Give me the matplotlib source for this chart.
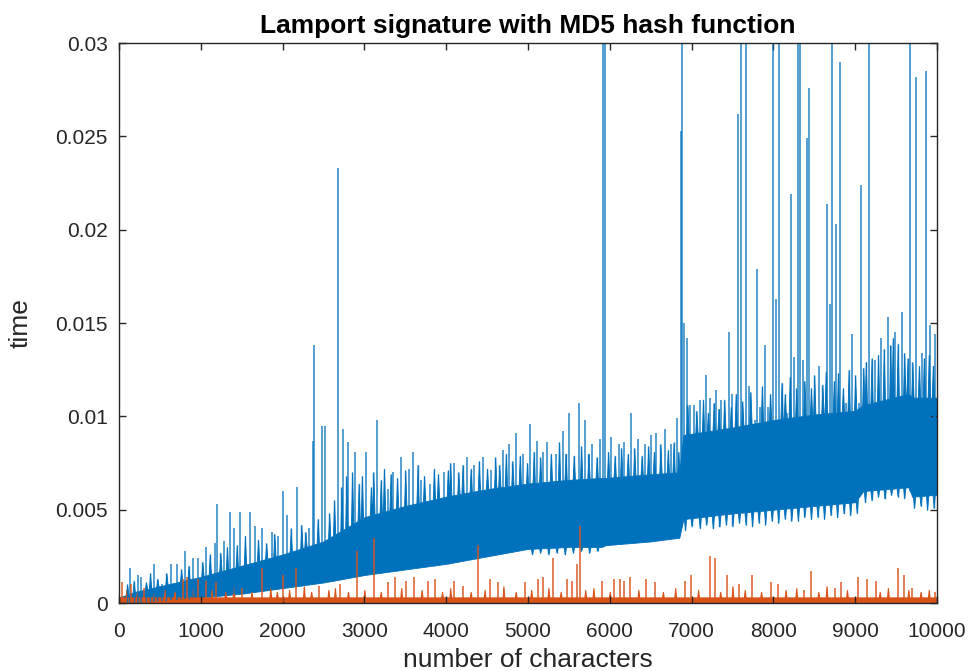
import numpy as np
import matplotlib
matplotlib.use("Agg")
import matplotlib.pyplot as plt

plt.rcParams['font.family'] = ['Liberation Sans', 'DejaVu Sans']

title = "Lamport signature with MD5 hash function"
xlabel = "number of characters"
ylabel = "time"
xticks = [0, 1000, 2000, 3000, 4000, 5000, 6000, 7000, 8000, 9000, 10000]
yticks = [0, 0.005, 0.01, 0.015, 0.02, 0.025, 0.03]
ytick_labels = ["0", "0.005", "0.01", "0.015", "0.02", "0.025", "0.03"]

# MD5 series: dense band (lower / upper edge of the solid core)
blue_x = [0, 200, 500, 1000, 1500, 2000, 2500, 3000, 3500, 4000, 4500, 5000, 5500, 5900, 5950,
          6500, 6850, 6900, 7500, 8000, 8500, 9000, 9100, 9650, 9700, 10000]
blue_low = [0.0, 0.0, 0.0001, 0.0003, 0.0005, 0.0008, 0.0011, 0.0015, 0.0018, 0.0021, 0.0025, 0.0029,
            0.0030, 0.0030, 0.0031, 0.0033, 0.0035, 0.0045, 0.0048, 0.0050, 0.0052, 0.0054, 0.0060,
            0.0062, 0.0057, 0.0058]
blue_high = [0.0003, 0.0006, 0.0009, 0.0014, 0.0020, 0.0026, 0.0033, 0.0046, 0.0052, 0.0057, 0.0061,
             0.0064, 0.0066, 0.0067, 0.0067, 0.0069, 0.0070, 0.0090, 0.0094, 0.0098, 0.0101, 0.0103,
             0.0106, 0.0112, 0.0110, 0.0110]

# MD5 series: individual peaks (position, time)
blue_peak_x = [135, 230, 270, 430, 520, 640, 710, 810, 900, 970, 1060, 1175, 1200, 1290, 1355, 1410,
               1480, 1600, 1660, 1750, 1870, 1940, 2000, 2060, 2175, 2320, 2370, 2390, 2480, 2520,
               2680, 2740, 2800, 2880, 3020, 3150, 3285, 3350, 3450, 3550, 3600, 3690, 3800, 3970,
               4100, 4260, 4340, 4450, 4550, 4690, 4770, 4850, 4940, 5030, 5110, 5180, 5230, 5340,
               5430, 5500, 5620, 5700, 5780, 5880, 5920, 5945, 6010, 6110, 6170, 6260, 6340, 6430,
               6500, 6565, 6675, 6750, 6820, 6870, 6880, 6905, 6940, 6980, 7030, 7100, 7175, 7230,
               7300, 7360, 7455, 7500, 7570, 7600, 7665, 7700, 7770, 7800, 7840, 7900, 7930, 7995,
               8030, 8070, 8170, 8215, 8250, 8300, 8330, 8360, 8410, 8435, 8555, 8655, 8690, 8720,
               8765, 8815, 8890, 8965, 9050, 9070, 9170, 9240, 9320, 9400, 9490, 9570, 9670, 9745,
               9815, 9865, 9920, 9980]
blue_peak_y = [0.0019, 0.0015, 0.0014, 0.0021, 0.0010, 0.0021, 0.0021, 0.0028, 0.0024, 0.0024, 0.0030,
               0.0032, 0.0053, 0.0033, 0.0049, 0.0040, 0.0049, 0.0049, 0.0041, 0.0040, 0.0038, 0.0036,
               0.0060, 0.0047, 0.0062, 0.0040, 0.0087, 0.0138, 0.0095, 0.0095, 0.0233, 0.0093, 0.0086,
               0.0081, 0.0081, 0.0098, 0.0061, 0.0070, 0.0078, 0.0072, 0.0081, 0.0066, 0.0064, 0.0070,
               0.0075, 0.0078, 0.0074, 0.0078, 0.0071, 0.0082, 0.0085, 0.0091, 0.0080, 0.0096, 0.0087,
               0.0081, 0.0086, 0.0080, 0.0092, 0.0102, 0.0107, 0.0098, 0.0085, 0.0088, 0.0320, 0.0320,
               0.0089, 0.0085, 0.0086, 0.0102, 0.0088, 0.0085, 0.0090, 0.0091, 0.0093, 0.0085, 0.0099,
               0.0253, 0.0320, 0.0150, 0.0142, 0.0106, 0.0106, 0.0109, 0.0122, 0.0110, 0.0114, 0.0109,
               0.0145, 0.0112, 0.0262, 0.0320, 0.0320, 0.0116, 0.0098, 0.0179, 0.0105, 0.0138, 0.0105,
               0.0320, 0.0163, 0.0320, 0.0102, 0.0219, 0.0132, 0.0320, 0.0320, 0.0130, 0.0249, 0.0276,
               0.0127, 0.0214, 0.0160, 0.0320, 0.0203, 0.0290, 0.0107, 0.0144, 0.0107, 0.0224, 0.0320,
               0.0130, 0.0142, 0.0153, 0.0145, 0.0156, 0.0320, 0.0282, 0.0134, 0.0285, 0.0149, 0.0144]

# MD5 series: dense short excursions above the core
blue_hair_x = [100, 180, 330, 380, 470, 580, 760, 850, 1020, 1110, 1240, 1320, 1440, 1540, 1700, 1800,
               1900, 2100, 2230, 2280, 2430, 2570, 2630, 2720, 2780, 2850, 2930, 2970, 3080, 3110,
               3200, 3240, 3320, 3400, 3500, 3650, 3730, 3850, 3900, 4020, 4050, 4150, 4200, 4300,
               4400, 4500, 4600, 4650, 4730, 4810, 4900, 4990, 5070, 5150, 5280, 5380, 5460, 5560,
               5650, 5740, 5840, 5980, 6060, 6140, 6220, 6300, 6390, 6470, 6540, 6620, 6710, 6780,
               6840, 6950, 7060, 7140, 7200, 7270, 7330, 7400, 7480, 7540, 7620, 7720, 7860, 7960,
               8100, 8140, 8200, 8280, 8380, 8460, 8500, 8600, 8640, 8740, 8790, 8850, 8920, 9000,
               9100, 9130, 9200, 9280, 9350, 9430, 9460, 9520, 9600, 9640, 9700, 9780, 9840, 9900,
               9950]
blue_hair_y = [0.0010, 0.0012, 0.0011, 0.0016, 0.0013, 0.0016, 0.0018, 0.0020, 0.0022, 0.0026, 0.0027,
               0.0030, 0.0031, 0.0036, 0.0034, 0.0032,
               0.0037, 0.0040, 0.0042, 0.0038, 0.0045, 0.0048, 0.0055, 0.0062, 0.0068, 0.0070, 0.0064,
               0.0068, 0.0062, 0.0070,
               0.0066, 0.0072, 0.0069, 0.0067, 0.0071, 0.0074, 0.0068, 0.0072, 0.0069, 0.0071, 0.0075,
               0.0070, 0.0074, 0.0072,
               0.0076, 0.0072, 0.0078, 0.0074, 0.0080, 0.0076, 0.0079, 0.0075, 0.0081, 0.0078, 0.0080,
               0.0086, 0.0080, 0.0079,
               0.0084, 0.0080, 0.0078, 0.0081, 0.0079, 0.0083, 0.0080, 0.0083, 0.0079, 0.0084, 0.0081,
               0.0085, 0.0082, 0.0086,
               0.0081, 0.0106, 0.0103, 0.0109, 0.0102, 0.0107, 0.0104, 0.0109, 0.0105, 0.0112, 0.0108,
               0.0113, 0.0116, 0.0112,
               0.0118, 0.0112, 0.0121, 0.0115, 0.0119, 0.0115, 0.0122, 0.0117, 0.0124, 0.0119, 0.0123,
               0.0115, 0.0125, 0.0122,
               0.0126, 0.0129, 0.0131, 0.0133, 0.0136, 0.0138, 0.0142, 0.0139, 0.0134, 0.0131, 0.0129,
               0.0127, 0.0131, 0.0133,
               0.0127]

# MD5 series: short excursions below the core
blue_dip_x = [5050, 5150, 5250, 5350, 5450, 5550, 5650, 5750, 5850, 6920, 7000, 7100, 7180, 7260, 7340,
              7420, 7500, 7580, 7660, 7740, 7820, 7900, 7980, 8060, 8140, 8220, 8300, 8380, 8460,
              8540, 8620, 8700, 8780, 8860, 8940, 9020, 9120, 9200, 9280, 9360, 9440, 9520, 9600,
              9720, 9800, 9880, 9960]
blue_dip_y = [0.0026, 0.0027, 0.0026, 0.0027, 0.0026, 0.0027, 0.0028, 0.0027, 0.0028, 0.0039, 0.0041,
              0.0040, 0.0042, 0.0040, 0.0041, 0.0042, 0.0041, 0.0043, 0.0042, 0.0041, 0.0043, 0.0042,
              0.0044, 0.0043, 0.0045, 0.0044, 0.0044, 0.0046, 0.0045, 0.0046, 0.0045, 0.0047, 0.0046,
              0.0048, 0.0047, 0.0048, 0.0054, 0.0055, 0.0057, 0.0056, 0.0058, 0.0057, 0.0056, 0.0051,
              0.0052, 0.0050, 0.0051]

# second series: dense base band and peaks
orange_x = [0, 10000]
orange_low = [0.00003, 0.00003]
orange_high = [0.0003, 0.0003]
orange_peak_x = [40, 150, 310, 780, 830, 960, 1060, 1190, 1500, 1750, 2000, 2170, 2450, 2700, 2910,
                 3120, 3290, 3370, 3510, 3610, 3780, 3860, 4100, 4200, 4390, 4530, 4630, 4960, 5120,
                 5180, 5310, 5480, 5540, 5600, 5635, 5900, 6050, 6120, 6180, 6250, 6440, 6550, 6920,
                 6990, 7225, 7290, 7430, 7580, 7740, 7970, 8060, 8370, 8460, 8750, 8830, 9035, 9140,
                 9250, 9525, 9595, 9700, 9970]
orange_peak_y = [0.0011, 0.0010, 0.0008, 0.0013, 0.0014, 0.0013, 0.0012, 0.0011, 0.0008, 0.0019, 0.0015,
                 0.0019, 0.0009, 0.0010, 0.0028, 0.0035, 0.0011, 0.0014, 0.0012, 0.0014, 0.0012, 0.0013,
                 0.0012, 0.0009, 0.0031, 0.0013, 0.0011, 0.0011, 0.0013, 0.0014, 0.0024, 0.0013, 0.0012,
                 0.0021, 0.0041, 0.0012, 0.0013, 0.0013, 0.0012, 0.0014, 0.0013, 0.0011, 0.0012, 0.0015,
                 0.0025, 0.0024, 0.0015, 0.0010, 0.0015, 0.0011, 0.0010, 0.0007, 0.0017, 0.0008, 0.0011,
                 0.0014, 0.0013, 0.0012, 0.0019, 0.0015, 0.0008, 0.0006]
orange_hair_x = [90, 220, 420, 560, 680, 900, 1130, 1300, 1400, 1620, 1850, 1930, 2080, 2260, 2350, 2560,
                 2640, 2800, 3000, 3200, 3450, 3700, 3950, 4050, 4300, 4470, 4700, 4850, 5040, 5250,
                 5400, 5700, 5800, 6000, 6350, 6650, 6800, 7080, 7350, 7500, 7650, 7850, 8150, 8280,
                 8550, 8650, 8900, 9300, 9400, 9650, 9800, 9900]
orange_hair_y = [0.0007, 0.0006, 0.0005, 0.0007, 0.0006, 0.0008, 0.0007, 0.0006, 0.0009, 0.0006, 0.0008,
                 0.0006, 0.0007, 0.0009, 0.0006, 0.0007, 0.0008, 0.0006, 0.0007, 0.0006, 0.0008, 0.0007,
                 0.0006, 0.0008, 0.0006, 0.0007, 0.0009, 0.0006, 0.0007, 0.0008, 0.0006, 0.0007, 0.0008,
                 0.0006, 0.0007, 0.0006, 0.0008, 0.0007, 0.0006, 0.0009, 0.0007, 0.0006, 0.0007, 0.0008,
                 0.0006, 0.0009, 0.0007, 0.0006, 0.0008, 0.0007, 0.0006, 0.0007]

BLUE = '#0072BD'
ORANGE = '#D95319'
AXC = '#262626'


def toothed_edge(edge_x, edge_y, tip_x, tip_y, upward=True, half_width=14.0):
    """Edge polyline of the band with a narrow tooth at every excursion."""
    ex = np.asarray(edge_x, float)
    ey = np.asarray(edge_y, float)
    tx = np.asarray(tip_x, float)
    ty = np.asarray(tip_y, float)
    base = np.interp(tx, ex, ey)
    ty = np.maximum(ty, base) if upward else np.minimum(ty, base)
    feet = np.concatenate([tx - half_width, tx + half_width])
    feet = feet[(feet > ex[0]) & (feet < ex[-1])]
    xs = np.concatenate([ex, feet])
    ys = np.interp(xs, ex, ey)
    xs = np.concatenate([xs, tx])
    ys = np.concatenate([ys, ty])
    order = np.argsort(xs, kind='stable')
    return xs[order], ys[order]


fig = plt.figure(figsize=(9.76, 6.71), dpi=100)
ax = fig.add_axes([0.1219, 0.1013, 0.9600 - 0.1219, 0.9359 - 0.1013])

# blue band with jagged top and bottom edges
tx_, ty_ = toothed_edge(blue_x, blue_high, blue_hair_x, blue_hair_y, upward=True)
bx_, by_ = toothed_edge(blue_x, blue_low, blue_dip_x, blue_dip_y, upward=False)
allx = np.unique(np.concatenate([tx_, bx_]))
ax.fill_between(allx, np.interp(allx, bx_, by_), np.interp(allx, tx_, ty_),
                color=BLUE, linewidth=0.6, edgecolor=BLUE)
bhx = np.array(blue_hair_x, dtype=float)
ax.vlines(bhx, np.interp(bhx, blue_x, blue_low), blue_hair_y, color=BLUE, linewidth=1.0, alpha=0.8)
bdx = np.array(blue_dip_x, dtype=float)
ax.vlines(bdx, blue_dip_y, np.interp(bdx, blue_x, blue_high), color=BLUE, linewidth=1.0, alpha=0.8)
bpx = np.array(blue_peak_x, dtype=float)
ax.vlines(bpx, np.interp(bpx, blue_x, blue_low), blue_peak_y, color=BLUE, linewidth=1.3, alpha=0.72)

# orange band
otx, oty = toothed_edge(orange_x, orange_high, orange_hair_x, orange_hair_y, upward=True, half_width=10.0)
ax.fill_between(otx, np.interp(otx, orange_x, orange_low), oty,
                color=ORANGE, linewidth=0.8, edgecolor=ORANGE)
opx = np.array(orange_peak_x, dtype=float)
ax.vlines(opx, np.interp(opx, orange_x, orange_low), orange_peak_y, color=ORANGE, linewidth=1.3, alpha=0.8)

ax.set_xlim(0, 10000)
ax.set_ylim(0, 0.03)
ax.set_xticks(xticks)
ax.set_xticklabels([str(v) for v in xticks])
ax.set_yticks(yticks)
ax.set_yticklabels(ytick_labels)
ax.tick_params(direction='in', top=True, right=True, length=5, width=1.0, colors=AXC,
               labelsize=15, labelcolor=AXC)
ax.tick_params(axis='x', pad=14)
ax.tick_params(axis='y', pad=8)
for s in ax.spines.values():
    s.set_color(AXC)
    s.set_linewidth(1.0)

ax.set_title(title, fontsize=19, fontweight='bold', color='black', pad=7)
ax.set_xlabel(xlabel, fontsize=19, color=AXC, labelpad=5)
ax.set_ylabel(ylabel, fontsize=19, color=AXC, labelpad=16)

fig.savefig("out.png", dpi=100)
